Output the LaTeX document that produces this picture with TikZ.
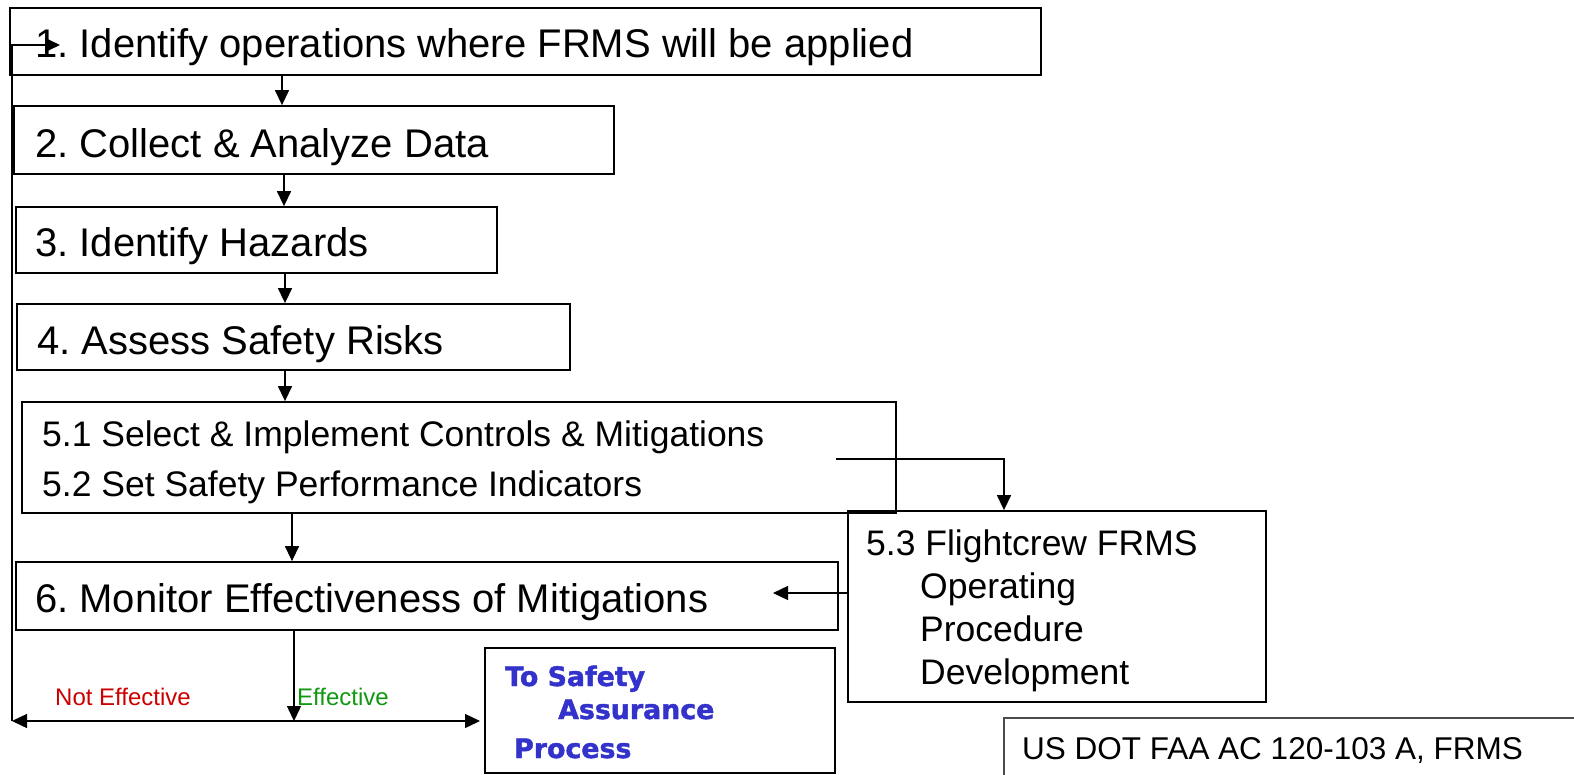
\documentclass[tikz,border=0pt]{standalone}
\usepackage{fontspec}
\setmainfont{Liberation Sans}
\newfontfamily\dejavu{DejaVu Sans}[BoldFeatures={FakeBold=1.6}]
\usetikzlibrary{arrows.meta,fit}
\frenchspacing
\definecolor{sablue}{RGB}{51,51,204}
\definecolor{nered}{RGB}{204,0,0}
\definecolor{efgreen}{RGB}{16,153,16}
\tikzset{
  box/.style={draw=black, line width=1.8pt, inner sep=0pt},
  refbox/.style={draw=black!70, line width=1.2pt, inner sep=0pt},
  arr/.style={line width=1.4pt, -{Triangle[length=15pt,width=14pt]}},
  tbig/.style={anchor=base west, inner sep=0pt, font=\fontsize{40}{48}\selectfont},
  tmid/.style={anchor=base west, inner sep=0pt, font=\fontsize{35.5}{42}\selectfont},
  tlab/.style={anchor=base west, inner sep=0pt, font=\fontsize{24}{28}\selectfont},
  tblue/.style={anchor=base west, inner sep=0pt, text=sablue, font=\dejavu\bfseries\fontsize{26.8}{30}\selectfont},
  tref/.style={anchor=base west, inner sep=0pt, font=\fontsize{31.5}{36}\selectfont},
}
\begin{document}
\begin{tikzpicture}[x=1pt,y=-1pt]
\useasboundingbox (0,0) rectangle (1574,774);
% boxes
\node[box, fit={(10,8) (1041,75)}] (b1) {};
\node[box, fit={(14,106) (614,174)}] (b2) {};
\node[box, fit={(16,207) (497,273)}] (b3) {};
\node[box, fit={(17,304) (570,370)}] (b4) {};
\node[box, fit={(22,402) (896,513)}] (b5) {};
\node[box, fit={(848,511) (1266,702)}] (b53) {};
\node[box, fit={(16,562) (838,630)}] (b6) {};
\node[box, fit={(485,648) (835,773)}] (sa) {};
\node[refbox, fit={(1004,718) (1590,790)}] (ref) {};
% texts
\node[tbig] (t1) at (35,57) {1. Identify operations where FRMS will be applied};
\node[tbig] (t2) at (35,157) {2. Collect \& Analyze Data};
\node[tbig] (t3) at (35,256) {3. Identify Hazards};
\node[tbig] (t4) at (37,354) {4. Assess Safety Risks};
\node[tmid] (t51) at (42,446) {5.1 Select \& Implement Controls \& Mitigations};
\node[tmid] (t52) at (42,496) {5.2 Set Safety Performance Indicators};
\node[tmid] (t53a) at (866,555) {5.3 Flightcrew FRMS};
\node[tmid] (t53b) at (920,598) {Operating};
\node[tmid] (t53c) at (920,641) {Procedure};
\node[tmid] (t53d) at (920,684) {Development};
\node[tbig] (t6) at (35,612) {6. Monitor Effectiveness of Mitigations};
\node[tlab, text=nered] (lne) at (55,705) {Not Effective};
\node[tlab, text=efgreen] (lef) at (297,705) {Effective};
\node[tblue] (sa1) at (505,686) {To Safety};
\node[tblue] (sa2) at (558,719) {Assurance};
\node[tblue] (sa3) at (514,758) {Process};
\node[tref] (tref1) at (1022,759) {US DOT FAA AC 120-103 A, FRMS};
% connector coordinates
\coordinate (x12) at (282,0);
\coordinate (x23) at (284,0);
\coordinate (x34) at (285,0);
\coordinate (x45) at (285,0);
\coordinate (x56) at (292,0);
\coordinate (j) at (294,721);
\coordinate (fbL) at (12,721);
\coordinate (fbT) at (12,45);
\coordinate (in1) at (60,45);
\coordinate (s51) at (836,459);
\coordinate (x53) at (1004,0);
\coordinate (y536) at (0,593);
\coordinate (e6) at (773,593);
\coordinate (jR) at (480,721);
% connectors
\draw[arr] (x12 |- b1.south) -- (x12 |- b2.north);
\draw[arr] (x23 |- b2.south) -- (x23 |- b3.north);
\draw[arr] (x34 |- b3.south) -- (x34 |- b4.north);
\draw[arr] (x45 |- b4.south) -- (x45 |- b5.north);
\draw[arr] (x56 |- b5.south) -- (x56 |- b6.north);
\draw[arr] (s51) -| (x53 |- b53.north);
\draw[arr] (b53.west |- y536) -- (e6);
\draw[arr] (j |- b6.south) -- (j);
\draw[arr] (j) -- (fbL);
\draw[arr] (j) -- (jR);
\draw[arr] (fbL) -- (fbT) -- (in1);
\end{tikzpicture}
\end{document}
